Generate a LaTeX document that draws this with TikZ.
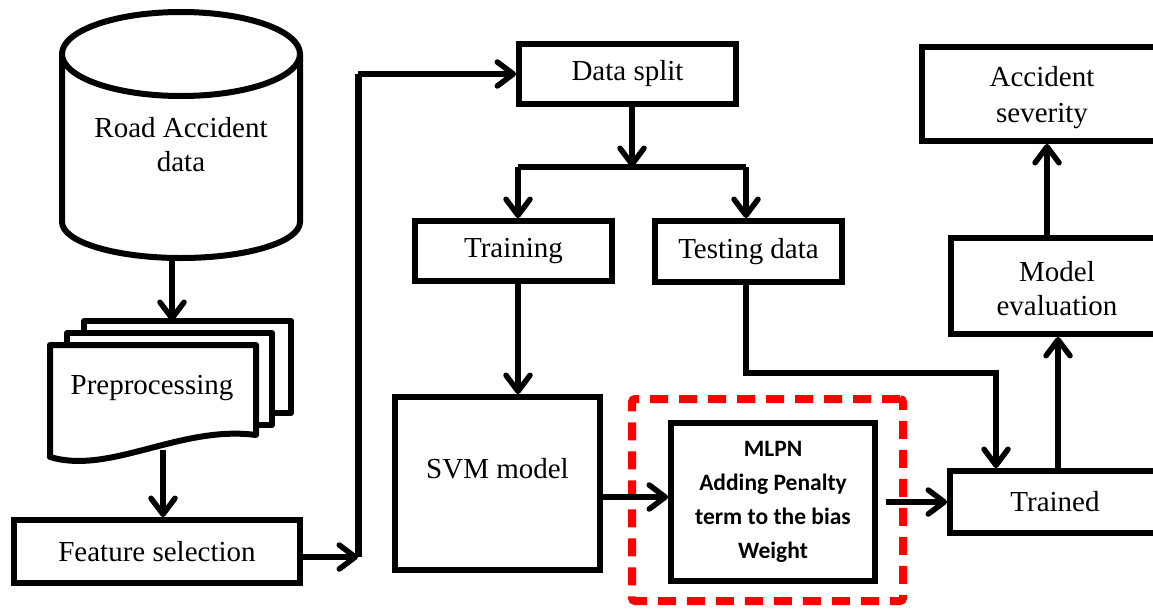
\documentclass[tikz,border=0pt]{standalone}
\usepackage{fontspec}
\setmainfont{Liberation Serif}
\newfontfamily\calibfont{Carlito}
\usetikzlibrary{arrows.meta,calc}

\begin{document}
\begin{tikzpicture}[x=1pt,y=-1pt,
  conn/.style={line width=5.5pt},
  arr/.style={conn, -{Straight Barb[length=16pt,width=24pt,round]}},
  box/.style={draw, line width=6pt, fill=white, inner sep=0pt, align=center,
              font=\fontsize{29}{34}\selectfont},
  txt/.style={inner sep=0pt, align=center, font=\fontsize{29}{34}\selectfont},
  boldtxt/.style={box, font=\calibfont\bfseries\fontsize{23.5}{34}\selectfont},
  outline/.style={line width=6pt, fill=white, line join=round},
  focus/.style={draw=red, line width=8pt, dash pattern=on 18pt off 11pt, rounded corners=3pt}
]
\useasboundingbox (0,0) rectangle (1153,608);
\clip (0,0) rectangle (1153,608);

% ---- data store (cylinder) ----
\draw[outline] (62,54) -- (62,222)
  .. controls (62,241.9) and (115.3,258) .. (181,258)
  .. controls (246.7,258) and (300,241.9) .. (300,222) -- (300,54);
\draw[outline] (181,54) ellipse [x radius=119, y radius=42];
\node[txt] (db) at (181,145) {Road Accident\\data};
\coordinate (dbout) at (172,258);

% ---- stacked documents ----
\draw[outline] (84,321) rectangle (291,413);
\draw[outline] (67,333) rectangle (272,425);
\draw[outline] (50,345) -- (256,345) -- (256,435)
  .. controls (180,425) and (110,475) .. (50,457) -- cycle;
\node[txt] (pre) at (152,388) {Preprocessing};
\coordinate (prein) at (172,321);
\coordinate (preout) at (163,450);

% ---- process boxes ----
\node[box, minimum width=286pt, minimum height=63pt] (fs) at (157,551.5) {Feature selection};
\node[box, minimum width=217pt, minimum height=60pt] (ds) at (627.5,74) {Data split};
\node[box, minimum width=197pt, minimum height=60pt] (tr) at (513.5,251) {Training};
\node[box, minimum width=187pt, minimum height=61pt] (te) at (748.5,251.5) {Testing data};
\node[box, minimum width=205pt, minimum height=173pt] (svm) at (497.5,483.5) {\raisebox{31pt}{SVM model}};
\node[focus, minimum width=271pt, minimum height=202pt] (hl) at (767.5,500) {};
\node[boldtxt, minimum width=204pt, minimum height=158pt] (mlpn) at (773,502)
  {MLPN\\Adding Penalty\\term to the bias\\Weight};
\node[box, minimum width=210pt, minimum height=62pt] (trained) at (1055,502) {Trained};
\node[box, minimum width=212pt, minimum height=96pt] (me) at (1057,286)
  {\raisebox{-3pt}[\height][\depth]{\parbox{200pt}{\centering Model\\evaluation}}};
\node[box, minimum width=240pt, minimum height=94pt] (as) at (1042,94)
  {\raisebox{-4pt}[\height][\depth]{\parbox{230pt}{\centering\baselineskip=36pt Accident\\severity}}};

% ---- routing points ----
\coordinate (bus1) at (358,557);
\coordinate (bus2) at (358,74);
\coordinate (split) at (632,167);
\coordinate (brL) at (518,167);
\coordinate (brR) at (746,167);
\coordinate (tturn) at (996,373);
\coordinate (upA) at (1058,400);
\coordinate (upB) at (1047,190);

% ---- connectors ----
\draw[arr] (dbout) -- (prein);
\draw[arr] (preout) -- (preout |- fs.north);
\draw[arr] (fs.east |- bus1) -- (bus1);
\draw[line width=7pt] (bus1) -- (bus2);
\draw[arr] (bus2) -- (ds.west);
\draw[arr] (ds.south -| split) -- (split);
\draw[conn] (brL) -- (brR);
\draw[arr] (brL) -- (brL |- tr.north);
\draw[arr] (brR) -- (brR |- te.north);
\draw[arr] (brL |- tr.south) -- (brL |- svm.north);
\draw[arr] ($(svm.east)+(0,13.5)$) -- ($(mlpn.west)+(0,-5)$);
\draw[arr] ([xshift=8pt]mlpn.east) -- (trained.west);
\draw[arr] (brR |- te.south) |- (tturn) -- (tturn |- trained.north);
\draw[arr] (upA |- trained.north) -- (upA |- me.south);
\draw[arr] (upB |- me.north) -- (upB |- as.south);
\end{tikzpicture}
\end{document}
